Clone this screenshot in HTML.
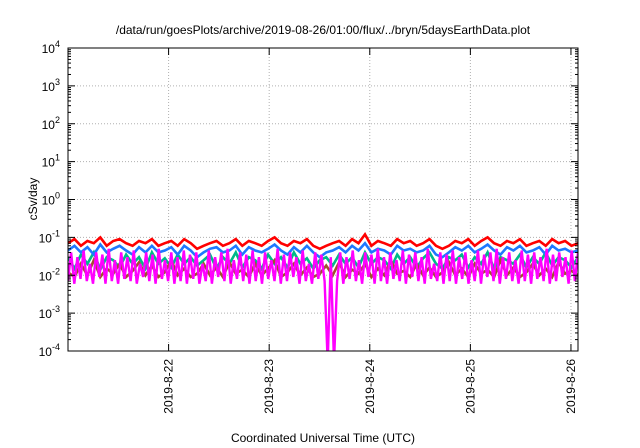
<!DOCTYPE html>
<html><head><meta charset="utf-8"><style>
html,body{margin:0;padding:0;background:#fff}
svg{display:block;font-family:"Liberation Sans",sans-serif}
</style></head><body>
<svg id="chart" width="640" height="448" viewBox="0 0 640 448">
<rect width="640" height="448" fill="#fff"/>
<text x="323" y="34" font-size="12" text-anchor="middle">/data/run/goesPlots/archive/2019-08-26/01:00/flux/../bryn/5daysEarthData.plot</text>
<text transform="translate(37,199) rotate(-90)" font-size="12" text-anchor="middle">cSv/day</text>
<text x="323" y="442" font-size="12" text-anchor="middle">Coordinated Universal Time (UTC)</text>
<g id="grid"></g>
<defs><clipPath id="clip"><rect x="68" y="48" width="510" height="303"/></clipPath></defs>
<g id="series" clip-path="url(#clip)"></g>
<g id="axes"></g>
</svg>
<script>
const yTickExps=[-4,-3,-2,-1,0,1,2,3,4];
const xTickDays=[1,2,3,4,5];
const xTickLabels=["2019-8-22","2019-8-23","2019-8-24","2019-8-25","2019-8-26"];
const xSpanDays=5.07;
const red=[0.07,0.09,0.06,0.08,0.07,0.1,0.06,0.08,0.09,0.07,0.06,0.08,0.07,0.09,0.06,0.07,0.08,0.06,0.09,0.07,0.05,0.06,0.07,0.08,0.06,0.07,0.09,0.06,0.08,0.07,0.06,0.08,0.1,0.07,0.06,0.08,0.07,0.09,0.06,0.05,0.06,0.07,0.08,0.06,0.09,0.07,0.12,0.06,0.08,0.07,0.06,0.09,0.07,0.08,0.06,0.07,0.09,0.06,0.05,0.06,0.08,0.07,0.09,0.06,0.08,0.1,0.07,0.06,0.08,0.07,0.09,0.06,0.07,0.08,0.06,0.09,0.07,0.08,0.06,0.07];
const blue=[0.045,0.06,0.04,0.055,0.035,0.065,0.04,0.05,0.06,0.045,0.035,0.055,0.04,0.06,0.04,0.045,0.055,0.035,0.06,0.045,0.03,0.04,0.05,0.055,0.04,0.045,0.06,0.035,0.055,0.045,0.04,0.05,0.065,0.045,0.035,0.055,0.04,0.06,0.04,0.03,0.04,0.045,0.055,0.04,0.06,0.045,0.07,0.04,0.05,0.045,0.035,0.06,0.045,0.05,0.04,0.045,0.06,0.035,0.03,0.04,0.055,0.045,0.06,0.04,0.05,0.065,0.045,0.035,0.055,0.045,0.06,0.04,0.045,0.055,0.035,0.06,0.045,0.05,0.04,0.045];
const teal=[0.03,0.015,0.035,0.02,0.04,0.014,0.03,0.025,0.016,0.035,0.02,0.03,0.015,0.04,0.02,0.028,0.016,0.035,0.02,0.03,0.018,0.025,0.035,0.015,0.03,0.02,0.04,0.016,0.03,0.025,0.015,0.035,0.02,0.03,0.016,0.04,0.02,0.028,0.015,0.025,0.03,0.018,0.035,0.02,0.03,0.016,0.04,0.02,0.03,0.025,0.015,0.035,0.02,0.03,0.016,0.028,0.04,0.02,0.015,0.03,0.025,0.035,0.016,0.03,0.02,0.04,0.015,0.03,0.025,0.02,0.035,0.016,0.03,0.02,0.04,0.018,0.03,0.025,0.016,0.03];
const brown=[0.012,0.009,0.02,0.01,0.025,0.009,0.015,0.011,0.02,0.009,0.013,0.022,0.01,0.018,0.009,0.012,0.025,0.01,0.015,0.009,0.011,0.02,0.01,0.016,0.009,0.022,0.011,0.014,0.009,0.02,0.01,0.015,0.025,0.009,0.012,0.02,0.01,0.016,0.009,0.011,0.018,0.01,0.022,0.009,0.014,0.011,0.02,0.009,0.015,0.01,0.025,0.011,0.013,0.009,0.02,0.01,0.016,0.009,0.012,0.022,0.01,0.015,0.009,0.02,0.011,0.014,0.009,0.025,0.01,0.016,0.009,0.012,0.02,0.01,0.015,0.009,0.022,0.011,0.013,0.01];
const magenta=[0.007,0.04,0.006,0.03,0.008,0.045,0.007,0.02,0.006,0.04,0.009,0.035,0.006,0.05,0.007,0.025,0.006,0.04,0.008,0.03,0.007,0.045,0.006,0.02,0.009,0.04,0.007,0.035,0.006,0.05,0.008,0.025,0.007,0.04,0.006,0.03,0.007,0.045,0.006,0.035,0.008,0.04,0.006,0.02,0.007,0.045,0.006,0.03,0.009,0.04,0.007,0.05,0.006,0.025,0.008,0.04,0.007,0.035,0.006,0.045,0.007,0.03,0.006,0.04,0.008,0.025,0.007,0.05,0.006,0.035,0.007,0.04,0.009,0.03,0.006,0.045,0.007,0.02,0.006,0.04,0.008,0.035,0.007,0.00005,0.03,0.00005,0.007,0.04,0.006,0.03,0.008,0.045,0.007,0.025,0.006,0.04,0.009,0.035,0.006,0.05,0.007,0.03,0.006,0.04,0.008,0.025,0.007,0.045,0.006,0.035,0.009,0.04,0.007,0.03,0.006,0.05,0.008,0.02,0.007,0.04,0.006,0.035,0.007,0.045,0.006,0.03,0.008,0.04,0.006,0.025,0.007,0.045,0.006,0.035,0.009,0.04,0.007,0.05,0.006,0.03,0.008,0.04,0.007,0.025,0.006,0.045,0.007,0.035,0.006,0.04,0.008,0.03,0.007,0.05,0.006,0.035,0.007,0.04,0.009,0.03,0.006,0.045,0.007,0.04];
const seriesList=[["red-series",red,"#ff0000"],["teal-series",teal,"#00b98a"],["brown-series",brown,"#a0522d"],["blue-series",blue,"#1e78ff"],["magenta-series",magenta,"#ff00ff"]];
const L=68,R=578,T=48,B=351;
const NS="http://www.w3.org/2000/svg";
function xs(d){return L+(R-L)*d/xSpanDays;}
function ys(v){return B-(Math.log10(v)+4)/8*(B-T);}
function mk(tag,attrs,parent){const e=document.createElementNS(NS,tag);for(const k in attrs)e.setAttribute(k,attrs[k]);parent.appendChild(e);return e;}
const grid=document.getElementById('grid'),axes=document.getElementById('axes'),ser=document.getElementById('series');
yTickExps.forEach(ex=>{
 const y=ys(Math.pow(10,ex));
 if(ex>-4&&ex<4){const g=mk('line',{x1:L,x2:R,y1:y,y2:y,stroke:'#b0b0b0','stroke-dasharray':'1,2','stroke-width':1},grid);
 }
 const t=mk('line',{x1:L,x2:L+7,y1:y,y2:y,stroke:'#000'},axes);
 const t2=mk('line',{x1:R-7,x2:R,y1:y,y2:y,stroke:'#000'},axes);
 for(let m=2;m<10&&ex<4;m++){const ym=ys(m*Math.pow(10,ex));
  const mt=mk('line',{x1:L,x2:L+3,y1:ym,y2:ym,stroke:'#000'},axes);
  const mt2=mk('line',{x1:R-3,x2:R,y1:ym,y2:ym,stroke:'#000'},axes);}
 const lb=mk('text',{x:L-8,y:y+5,'font-size':12,'text-anchor':'end'},axes);
 
 lb.appendChild(document.createTextNode('10'));
 const sp=mk('tspan',{dy:-6,'font-size':9},lb);sp.textContent=String(ex);
});
xTickDays.forEach((d,i)=>{
 const x=xs(d);
 const g=mk('line',{x1:x,x2:x,y1:T,y2:B,stroke:'#b0b0b0','stroke-dasharray':'1,2'},grid);
 const t=mk('line',{x1:x,x2:x,y1:B-7,y2:B,stroke:'#000'},axes);
 const t2=mk('line',{x1:x,x2:x,y1:T,y2:T+7,stroke:'#000'},axes);
 const lb=mk('text',{transform:`translate(${x+4},${B+8}) rotate(-90)`,'font-size':12,'text-anchor':'end'},axes);
 lb.textContent=xTickLabels[i];
});
const fr=mk('rect',{x:L,y:T,width:R-L,height:B-T,fill:'none',stroke:'#000','stroke-width':1},axes);

seriesList.forEach(([name,vals,col])=>{
 const n=vals.length;
 const pts=vals.map((v,i)=>xs(i*xSpanDays/(n-1)).toFixed(1)+','+ys(v).toFixed(1)).join(' ');
 const p=mk('polyline',{points:pts,fill:'none',stroke:col,'stroke-width':name==='magenta-series'?2.4:2.6,'stroke-linejoin':'miter'},ser);
 
});
</script>
</body></html>
